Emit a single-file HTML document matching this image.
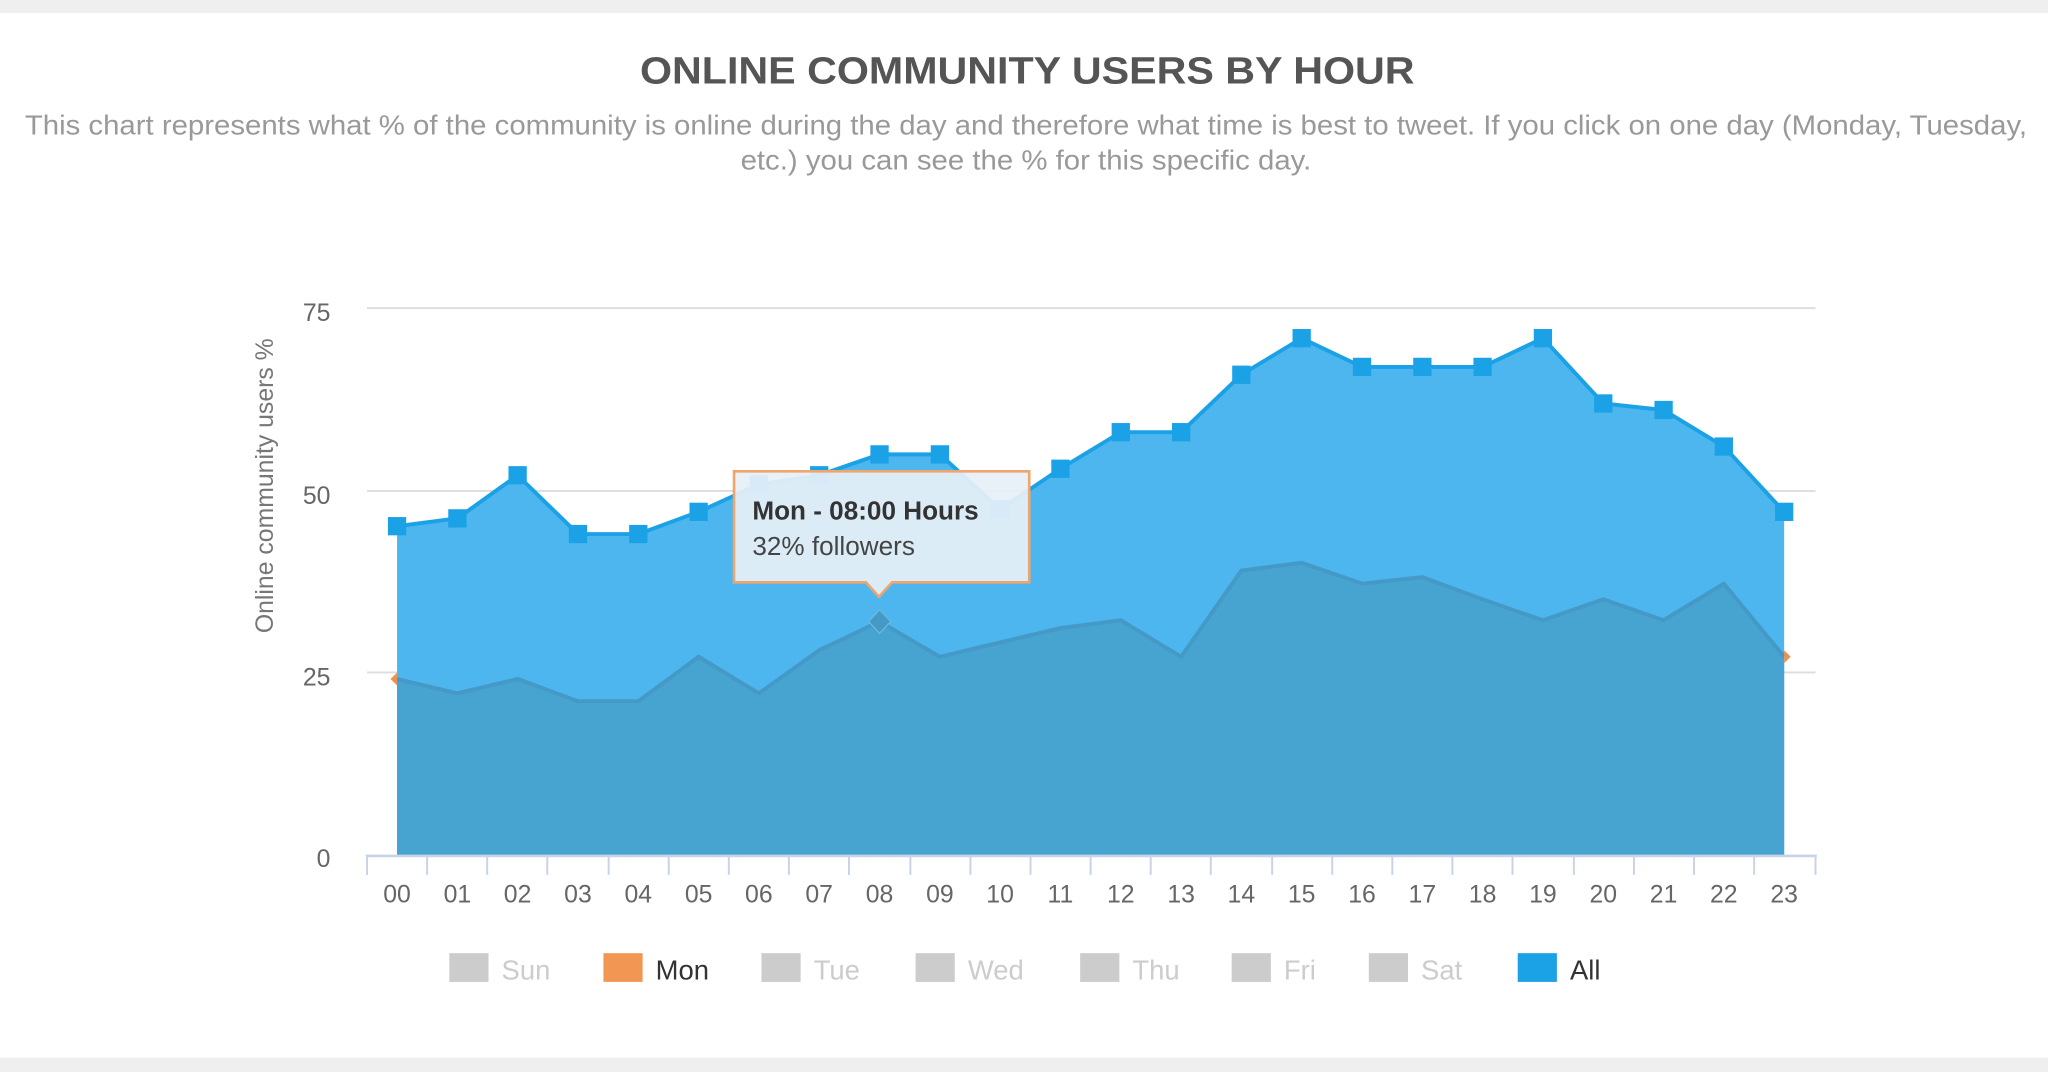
<!DOCTYPE html>
<html><head><meta charset="utf-8"><style>
html,body{margin:0;padding:0;background:#fff}
svg{display:block}
text{font-family:"Liberation Sans",sans-serif}
</style></head><body>
<svg width="2048" height="1072" viewBox="0 0 1568 821" preserveAspectRatio="none" xmlns="http://www.w3.org/2000/svg">
<rect x="0" y="0" width="1568" height="821" fill="#fff"/>
<rect x="0" y="0" width="1568" height="10" fill="#efefef"/>
<rect x="0" y="810" width="1568" height="11" fill="#efefef"/>
<text x="490" y="64" textLength="593" lengthAdjust="spacingAndGlyphs" font-size="29" font-weight="bold" fill="#555">ONLINE COMMUNITY USERS BY HOUR</text>
<text x="19" y="103" textLength="1533" lengthAdjust="spacingAndGlyphs" font-size="21" fill="#999">This chart represents what % of the community is online during the day and therefore what time is best to tweet. If you click on one day (Monday, Tuesday,</text>
<text x="567" y="130" textLength="437" lengthAdjust="spacingAndGlyphs" font-size="21" fill="#999">etc.) you can see the % for this specific day.</text>
<!-- grid -->
<g stroke="#ddd" stroke-width="1.5">
<line x1="281" y1="236" x2="1390" y2="236"/>
<line x1="281" y1="376" x2="1390" y2="376"/>
<line x1="281" y1="515" x2="1390" y2="515"/>
</g>
<g font-size="19" fill="#666" text-anchor="end">
<text x="253" y="246">75</text><text x="253" y="386">50</text><text x="253" y="525">25</text><text x="253" y="664">0</text>
</g>
<text transform="translate(209,372) rotate(-90)" text-anchor="middle" font-size="19" fill="#777">Online community users %</text>
<!-- All area -->
<polygon fill="#4db6ee" points="304,655 304,403 350.2,397 396.3,364 442.5,409 488.7,409 534.9,392 581,371 627.2,364 673.4,348 719.6,348 765.7,390 811.9,359 858.1,331 904.3,331 950.4,287 996.6,259 1042.8,281 1089,281 1135.1,281 1181.3,259 1227.5,309 1273.7,314 1319.8,342 1366,392 1366,655"/>
<polyline fill="none" stroke="#1ba1e6" stroke-width="3" points="304,403 350.2,397 396.3,364 442.5,409 488.7,409 534.9,392 581,371 627.2,364 673.4,348 719.6,348 765.7,390 811.9,359 858.1,331 904.3,331 950.4,287 996.6,259 1042.8,281 1089,281 1135.1,281 1181.3,259 1227.5,309 1273.7,314 1319.8,342 1366,392"/>
<!-- Mon area -->
<polygon fill="#47a3d0" points="304,655 304,520 350.2,531 396.3,520 442.5,537 488.7,537 534.9,503 581,531 627.2,498 673.4,476 719.6,503 765.7,492 811.9,481 858.1,475 904.3,503 950.4,437 996.6,431 1042.8,447 1089,442 1135.1,459 1181.3,475 1227.5,459 1273.7,475 1319.8,447 1366,503 1366,655"/>
<polyline fill="none" stroke="#4499c6" stroke-width="3" points="304,520 350.2,531 396.3,520 442.5,537 488.7,537 534.9,503 581,531 627.2,498 673.4,476 719.6,503 765.7,492 811.9,481 858.1,475 904.3,503 950.4,437 996.6,431 1042.8,447 1089,442 1135.1,459 1181.3,475 1227.5,459 1273.7,475 1319.8,447 1366,503"/>
<polygon points="299,520 304,515 304,525" fill="#f0904f"/>
<polygon points="1366,498 1371,503 1366,508" fill="#f0904f"/>
<polygon points="673.4,467 682,476 673.4,485 665,476" fill="#4499c6" stroke="#6cb8e0" stroke-width="1"/>
<!-- markers -->
<g fill="#1ba1e6">
<rect x="297" y="396" width="14" height="14"/><rect x="343.2" y="390" width="14" height="14"/><rect x="389.3" y="357" width="14" height="14"/><rect x="435.5" y="402" width="14" height="14"/><rect x="481.7" y="402" width="14" height="14"/><rect x="527.9" y="385" width="14" height="14"/><rect x="574" y="364" width="14" height="14"/><rect x="620.2" y="357" width="14" height="14"/><rect x="666.4" y="341" width="14" height="14"/><rect x="712.6" y="341" width="14" height="14"/><rect x="758.7" y="383" width="14" height="14"/><rect x="804.9" y="352" width="14" height="14"/><rect x="851.1" y="324" width="14" height="14"/><rect x="897.3" y="324" width="14" height="14"/><rect x="943.4" y="280" width="14" height="14"/><rect x="989.6" y="252" width="14" height="14"/><rect x="1035.8" y="274" width="14" height="14"/><rect x="1082" y="274" width="14" height="14"/><rect x="1128.1" y="274" width="14" height="14"/><rect x="1174.3" y="252" width="14" height="14"/><rect x="1220.5" y="302" width="14" height="14"/><rect x="1266.7" y="307" width="14" height="14"/><rect x="1312.8" y="335" width="14" height="14"/><rect x="1359" y="385" width="14" height="14"/>
</g>
<!-- x axis -->
<line x1="280" y1="655.5" x2="1391" y2="655.5" stroke="#c8d4e4" stroke-width="2"/>
<g stroke="#c8d4e4" stroke-width="1.5">
<line x1="281" y1="655" x2="281" y2="670"/><line x1="327" y1="655" x2="327" y2="670"/><line x1="373" y1="655" x2="373" y2="670"/><line x1="419" y1="655" x2="419" y2="670"/><line x1="466" y1="655" x2="466" y2="670"/><line x1="512" y1="655" x2="512" y2="670"/><line x1="558" y1="655" x2="558" y2="670"/><line x1="604" y1="655" x2="604" y2="670"/><line x1="650" y1="655" x2="650" y2="670"/><line x1="697" y1="655" x2="697" y2="670"/><line x1="743" y1="655" x2="743" y2="670"/><line x1="789" y1="655" x2="789" y2="670"/><line x1="835" y1="655" x2="835" y2="670"/><line x1="881" y1="655" x2="881" y2="670"/><line x1="927" y1="655" x2="927" y2="670"/><line x1="974" y1="655" x2="974" y2="670"/><line x1="1020" y1="655" x2="1020" y2="670"/><line x1="1066" y1="655" x2="1066" y2="670"/><line x1="1112" y1="655" x2="1112" y2="670"/><line x1="1158" y1="655" x2="1158" y2="670"/><line x1="1205" y1="655" x2="1205" y2="670"/><line x1="1251" y1="655" x2="1251" y2="670"/><line x1="1297" y1="655" x2="1297" y2="670"/><line x1="1343" y1="655" x2="1343" y2="670"/><line x1="1390" y1="655" x2="1390" y2="670"/>
</g>
<g font-size="19" fill="#666" text-anchor="middle">
<text x="304" y="691">00</text><text x="350.2" y="691">01</text><text x="396.3" y="691">02</text><text x="442.5" y="691">03</text><text x="488.7" y="691">04</text><text x="534.9" y="691">05</text><text x="581" y="691">06</text><text x="627.2" y="691">07</text><text x="673.4" y="691">08</text><text x="719.6" y="691">09</text><text x="765.7" y="691">10</text><text x="811.9" y="691">11</text><text x="858.1" y="691">12</text><text x="904.3" y="691">13</text><text x="950.4" y="691">14</text><text x="996.6" y="691">15</text><text x="1042.8" y="691">16</text><text x="1089" y="691">17</text><text x="1135.1" y="691">18</text><text x="1181.3" y="691">19</text><text x="1227.5" y="691">20</text><text x="1273.7" y="691">21</text><text x="1319.8" y="691">22</text><text x="1366" y="691">23</text>
</g>
<!-- tooltip -->
<g>
<path d="M562,361 H788 V446 H683 L673,457 L663,446 H562 Z" fill="#e6f0f8" fill-opacity="0.93" stroke="#f0a56c" stroke-width="2"/>
<text x="576" y="398" font-size="20" font-weight="bold" fill="#333">Mon - 08:00 Hours</text>
<text x="576" y="425" font-size="20" fill="#444">32% followers</text>
</g>
<!-- legend -->
<g font-size="21">
<rect x="344" y="730" width="30" height="22" fill="#ccc"/><text x="384" y="750" fill="#ccc">Sun</text>
<rect x="462" y="730" width="30" height="22" fill="#f29654"/><text x="502" y="750" fill="#333">Mon</text>
<rect x="583" y="730" width="30" height="22" fill="#ccc"/><text x="623" y="750" fill="#ccc">Tue</text>
<rect x="701" y="730" width="30" height="22" fill="#ccc"/><text x="741" y="750" fill="#ccc">Wed</text>
<rect x="827" y="730" width="30" height="22" fill="#ccc"/><text x="867" y="750" fill="#ccc">Thu</text>
<rect x="943" y="730" width="30" height="22" fill="#ccc"/><text x="983" y="750" fill="#ccc">Fri</text>
<rect x="1048" y="730" width="30" height="22" fill="#ccc"/><text x="1088" y="750" fill="#ccc">Sat</text>
<rect x="1162" y="730" width="30" height="22" fill="#1ba1e6"/><text x="1202" y="750" fill="#333">All</text>
</g>
</svg>
</body></html>
